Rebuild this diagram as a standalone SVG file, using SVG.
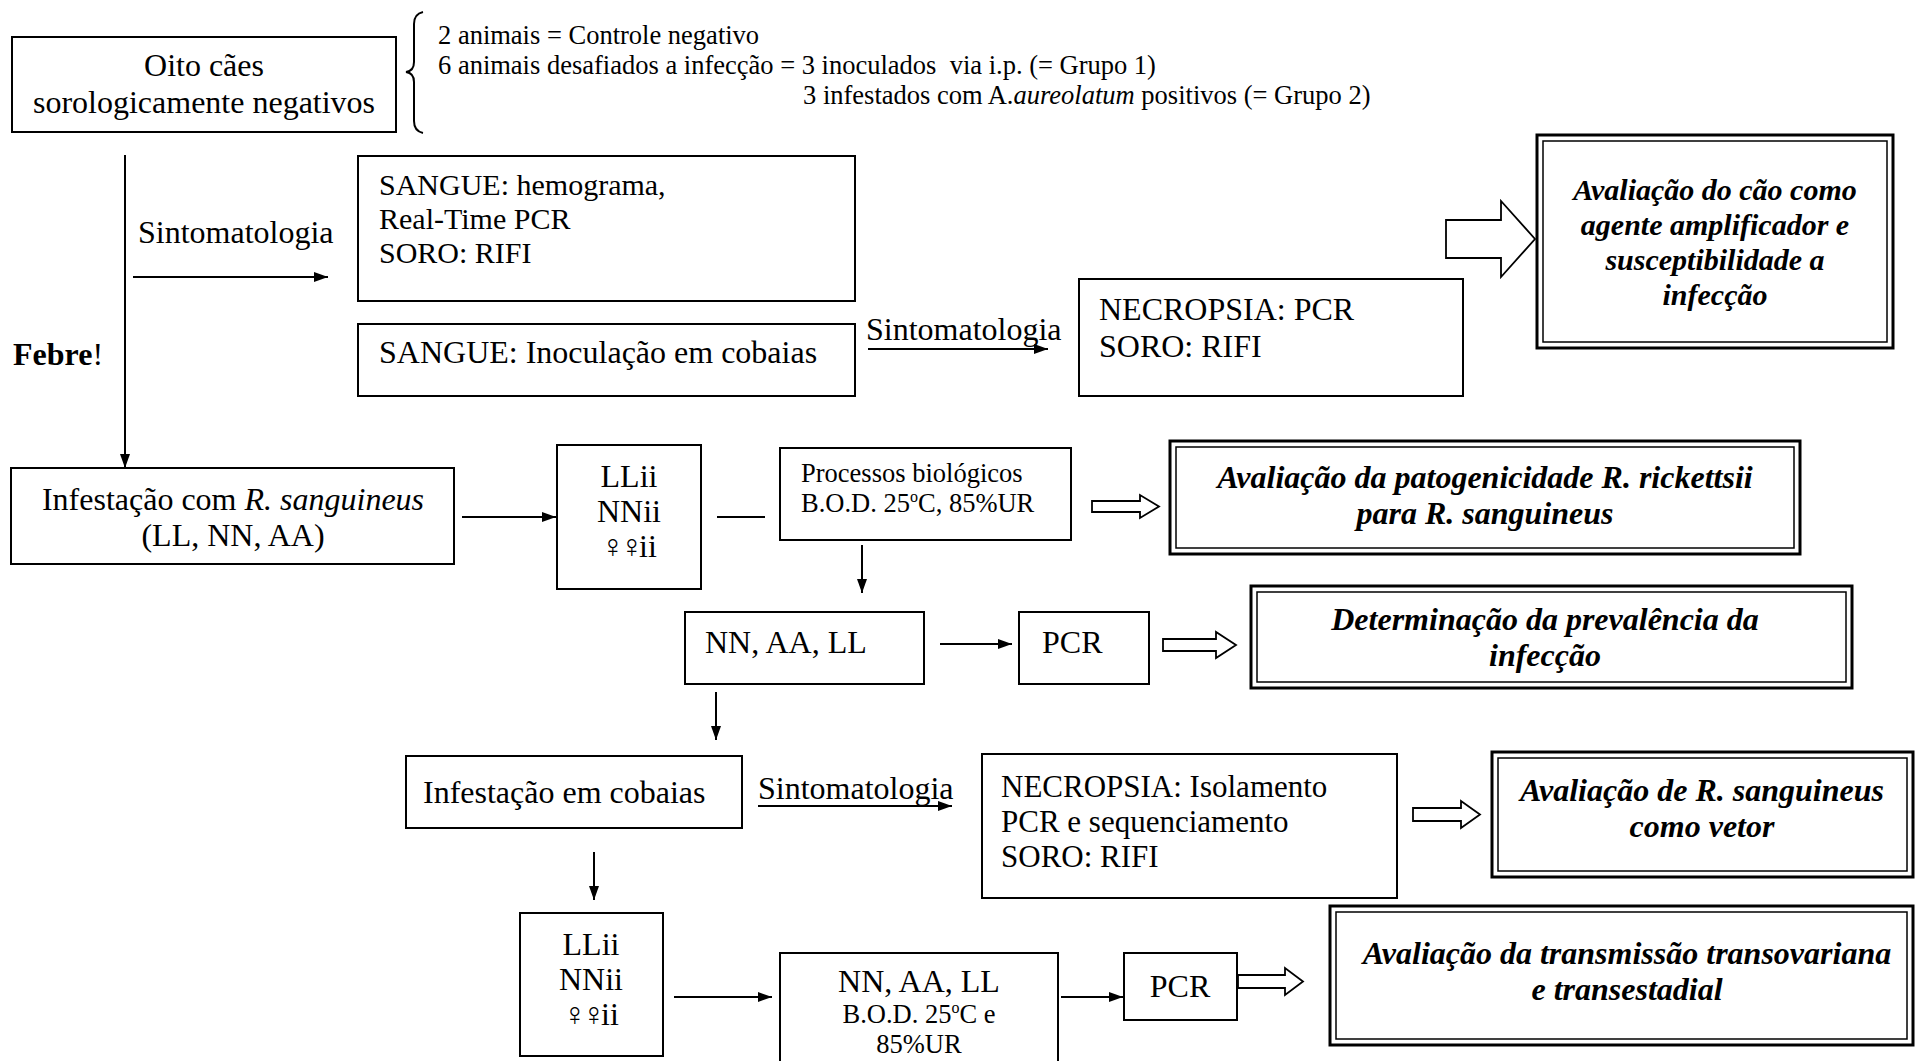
<svg xmlns="http://www.w3.org/2000/svg" width="1917" height="1061" viewBox="0 0 1917 1061">
<style>
.bg{fill:#fff}
.b{fill:#fff;stroke:#000;stroke-width:2}
.o{fill:none;stroke:#000;stroke-width:3}
.i{fill:none;stroke:#000;stroke-width:1.5}
.h{fill:#fff;stroke:#000;stroke-width:1.8;stroke-linejoin:miter}
.ln{stroke:#000;stroke-width:2;fill:none}
text{font-family:"Liberation Serif","Times New Roman","DejaVu Serif",serif;font-size:32px;fill:#000;white-space:pre}
.s{font-size:26.5px}
.t30{font-size:30px}
.t31{font-size:31px}
.bi{font-weight:bold;font-style:italic}
.c{text-anchor:middle}
.fem{letter-spacing:-5px}
</style>
<defs>
<marker id="ah" viewBox="0 0 14 10" refX="14" refY="5" markerWidth="14" markerHeight="10" markerUnits="userSpaceOnUse" orient="auto"><path d="M0,0 L14,5 L0,10 z" fill="#000"/></marker>
</defs>
<rect class="bg" x="0" y="0" width="1917" height="1061"/>

<g id="connectors">
<line class="ln" x1="125" y1="155" x2="125" y2="468" marker-end="url(#ah)"/>
<line class="ln" x1="133" y1="277" x2="328" y2="277" marker-end="url(#ah)"/>
<line class="ln" x1="868" y1="349" x2="1048" y2="349" marker-end="url(#ah)"/>
<line class="ln" x1="462" y1="517" x2="556" y2="517" marker-end="url(#ah)"/>
<line class="ln" x1="717" y1="517" x2="765" y2="517"/>
<line class="ln" x1="862" y1="545" x2="862" y2="593" marker-end="url(#ah)"/>
<line class="ln" x1="940" y1="644" x2="1012" y2="644" marker-end="url(#ah)"/>
<line class="ln" x1="716" y1="692" x2="716" y2="740" marker-end="url(#ah)"/>
<line class="ln" x1="758" y1="806" x2="952" y2="806" marker-end="url(#ah)"/>
<line class="ln" x1="594" y1="852" x2="594" y2="900" marker-end="url(#ah)"/>
<line class="ln" x1="674" y1="997" x2="772" y2="997" marker-end="url(#ah)"/>
<line class="ln" x1="1061" y1="997" x2="1123" y2="997" marker-end="url(#ah)"/>
<path class="h" d="M1446,220 H1501 V201 L1535,239 L1501,277 V258 H1446 Z"/>
<path class="h" d="M1092,501 H1140 V495 L1159,506.5 L1140,518 V512 H1092 Z"/>
<path class="h" d="M1163,639 H1216 V632 L1236,645 L1216,658 V651 H1163 Z"/>
<path class="h" d="M1413,808 H1461 V801 L1480,814.5 L1461,828 V821 H1413 Z"/>
<path class="h" d="M1238,975 H1285 V968 L1303,981.5 L1285,995 V988 H1238 Z"/>
</g>

<g id="labels">
<text x="138" y="243">Sintomatologia</text>
<text x="866" y="340">Sintomatologia</text>
<text x="758" y="799">Sintomatologia</text>
<text x="13" y="365"><tspan font-weight="bold">Febre</tspan>!</text>
</g>

<g id="n-oito">
<rect class="b" x="12" y="37" width="384" height="95"/>
<text class="c" x="204" y="76">Oito cães</text>
<text class="c" x="204" y="113">sorologicamente negativos</text>
</g>

<g id="n-grupos">
<path class="ln" d="M423,12 Q414,14 414,24 V62 Q414,71 406,72 Q414,73 414,82 V121 Q414,131 423,133"/>
<text class="s" x="438" y="44">2 animais = Controle negativo</text>
<text class="s" x="438" y="74">6 animais desafiados a infecção = 3 inoculados  via i.p. (= Grupo 1)</text>
<text class="s" x="803" y="104">3 infestados com A.<tspan font-style="italic">aureolatum</tspan> positivos (= Grupo 2)</text>
</g>

<g id="n-sangue1">
<rect class="b" x="358" y="156" width="497" height="145"/>
<text class="t30" x="379" y="195">SANGUE: hemograma,</text>
<text class="t30" x="379" y="229">Real-Time PCR</text>
<text class="t30" x="379" y="263">SORO: RIFI</text>
</g>

<g id="n-sangue2">
<rect class="b" x="358" y="324" width="497" height="72"/>
<text x="379" y="363">SANGUE: Inoculação em cobaias</text>
</g>

<g id="n-necropsia1">
<rect class="b" x="1079" y="279" width="384" height="117"/>
<text x="1099" y="320">NECROPSIA: PCR</text>
<text x="1099" y="357">SORO: RIFI</text>
</g>

<g id="n-aval1">
<rect class="o" x="1537" y="135" width="356" height="213"/>
<rect class="i" x="1543" y="141" width="344" height="201"/>
<text class="c bi t30" x="1715" y="200">Avaliação do cão como</text>
<text class="c bi t30" x="1715" y="235">agente amplificador e</text>
<text class="c bi t30" x="1715" y="270">susceptibilidade a</text>
<text class="c bi t30" x="1715" y="305">infecção</text>
</g>

<g id="n-infest">
<rect class="b" x="11" y="468" width="443" height="96"/>
<text class="c" x="233" y="510">Infestação com <tspan font-style="italic">R. sanguineus</tspan></text>
<text class="c" x="233" y="546">(LL, NN, AA)</text>
</g>

<g id="n-estagios1">
<rect class="b" x="557" y="445" width="144" height="144"/>
<text class="c" x="629" y="487">LLii</text>
<text class="c" x="629" y="522">NNii</text>
<text class="c" x="629" y="557"><tspan class="fem">♀♀</tspan>ii</text>
</g>

<g id="n-processos">
<rect class="b" x="780" y="448" width="291" height="92"/>
<text class="s" x="801" y="482">Processos biológicos</text>
<text class="s" x="801" y="512">B.O.D. 25<tspan font-size="16" dy="-10">o</tspan><tspan dy="10">C, 85%UR</tspan></text>
</g>

<g id="n-aval2">
<rect class="o" x="1170" y="441" width="630" height="113"/>
<rect class="i" x="1176" y="447" width="618" height="101"/>
<text class="c bi" x="1485" y="488">Avaliação da patogenicidade R. rickettsii</text>
<text class="c bi" x="1485" y="524">para R. sanguineus</text>
</g>

<g id="n-nnaall1">
<rect class="b" x="685" y="612" width="239" height="72"/>
<text x="705" y="653">NN, AA, LL</text>
</g>

<g id="n-pcr1">
<rect class="b" x="1019" y="612" width="130" height="72"/>
<text x="1042" y="653">PCR</text>
</g>

<g id="n-aval3">
<rect class="o" x="1251" y="586" width="601" height="102"/>
<rect class="i" x="1257" y="592" width="589" height="90"/>
<text class="c bi" x="1545" y="630">Determinação da prevalência da</text>
<text class="c bi" x="1545" y="666">infecção</text>
</g>

<g id="n-cobaias">
<rect class="b" x="406" y="756" width="336" height="72"/>
<text x="423" y="803">Infestação em cobaias</text>
</g>

<g id="n-necropsia2">
<rect class="b" x="982" y="754" width="415" height="144"/>
<text class="t31" x="1001" y="797">NECROPSIA: Isolamento</text>
<text class="t31" x="1001" y="832">PCR e sequenciamento</text>
<text class="t31" x="1001" y="867">SORO: RIFI</text>
</g>

<g id="n-aval4">
<rect class="o" x="1492" y="752" width="421" height="125"/>
<rect class="i" x="1498" y="758" width="409" height="113"/>
<text class="c bi" x="1702" y="801">Avaliação de R. sanguineus</text>
<text class="c bi" x="1702" y="837">como vetor</text>
</g>

<g id="n-estagios2">
<rect class="b" x="520" y="913" width="143" height="143"/>
<text class="c" x="591" y="955">LLii</text>
<text class="c" x="591" y="990">NNii</text>
<text class="c" x="591" y="1025"><tspan class="fem">♀♀</tspan>ii</text>
</g>

<g id="n-nnaall2">
<rect class="b" x="780" y="953" width="278" height="115"/>
<text class="c" x="919" y="992">NN, AA, LL</text>
<text class="c s" x="919" y="1023">B.O.D. 25<tspan font-size="16" dy="-10">o</tspan><tspan dy="10">C e</tspan></text>
<text class="c s" x="919" y="1053">85%UR</text>
</g>

<g id="n-pcr2">
<rect class="b" x="1124" y="953" width="113" height="67"/>
<text class="c" x="1180" y="997">PCR</text>
</g>

<g id="n-aval5">
<rect class="o" x="1330" y="906" width="583" height="139"/>
<rect class="i" x="1336" y="912" width="571" height="127"/>
<text class="c bi" x="1627" y="964">Avaliação da transmissão transovariana</text>
<text class="c bi" x="1627" y="1000">e transestadial</text>
</g>
</svg>
